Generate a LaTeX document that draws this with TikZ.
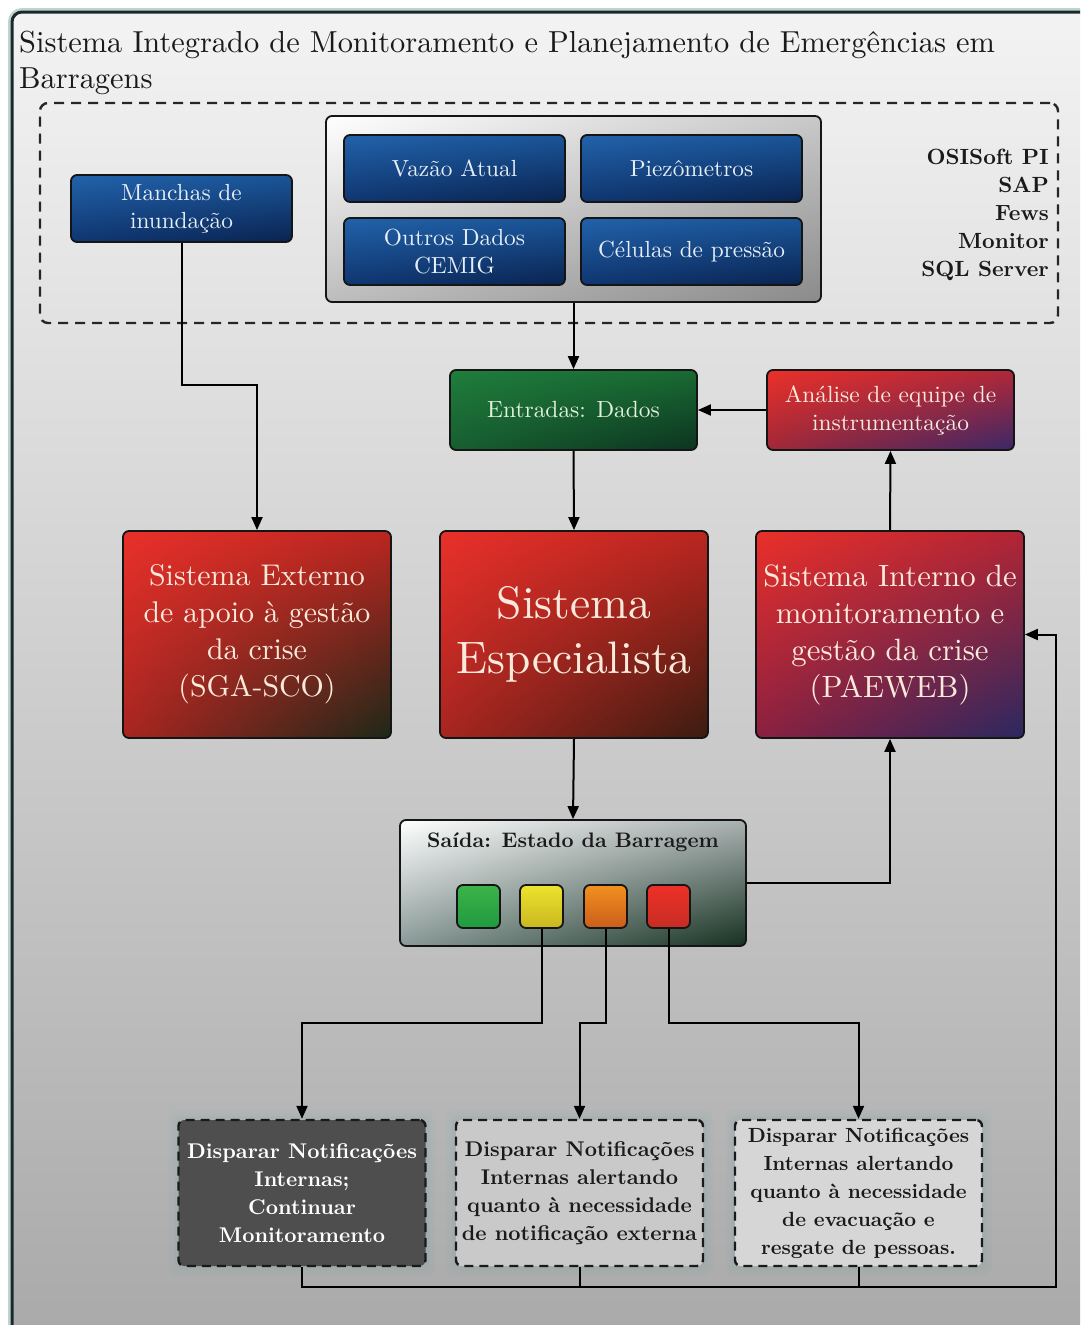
\documentclass[tikz,border=0pt]{standalone}
\usepackage{fontspec}
\setmainfont{lmroman10-regular.otf}[BoldFont=lmroman10-bold.otf, ItalicFont=lmroman10-italic.otf, BoldItalicFont=lmroman10-bolditalic.otf]
\usetikzlibrary{arrows.meta,calc,shadings}
\definecolor{bgtop}{HTML}{F3F3F3}
\definecolor{bgbot}{HTML}{A9A9A9}
\definecolor{framecol}{HTML}{1A2A2A}
\definecolor{boxline}{HTML}{151515}
\definecolor{blueUL}{HTML}{2262AA}
\definecolor{blueUR}{HTML}{1A5598}
\definecolor{blueLL}{HTML}{0F3670}
\definecolor{blueLR}{HTML}{0A2350}
\definecolor{bluetext}{HTML}{E6EEF8}
\definecolor{greenUL}{HTML}{1F7D3C}
\definecolor{greenUR}{HTML}{196A33}
\definecolor{greenLL}{HTML}{175F30}
\definecolor{greenLR}{HTML}{0C3320}
\definecolor{greentext}{HTML}{E2F2DA}
\definecolor{redUL}{HTML}{EA302A}
\definecolor{redUR}{HTML}{BA2620}
\definecolor{redLL}{HTML}{A82520}
\definecolor{extLR}{HTML}{1C2818}
\definecolor{espLR}{HTML}{3A1C10}
\definecolor{intUR}{HTML}{B22535}
\definecolor{intLL}{HTML}{8A2040}
\definecolor{intLR}{HTML}{2A2860}
\definecolor{anUR}{HTML}{B02838}
\definecolor{anLL}{HTML}{A02838}
\definecolor{anLR}{HTML}{3A2868}
\definecolor{redtext}{HTML}{FBE9DC}
\definecolor{saUR}{HTML}{A8B0B0}
\definecolor{saLL}{HTML}{8A9A98}
\definecolor{saLR}{HTML}{153020}
\definecolor{grUR}{HTML}{C8C8C8}
\definecolor{grLL}{HTML}{BDBDBD}
\definecolor{grLR}{HTML}{8A8A8A}
\definecolor{lgA}{HTML}{3CB44A}
\definecolor{lgB}{HTML}{1F9A3F}
\definecolor{lyA}{HTML}{ECE42E}
\definecolor{lyB}{HTML}{C9B61F}
\definecolor{loA}{HTML}{F2901F}
\definecolor{loB}{HTML}{C95E1C}
\definecolor{lrA}{HTML}{EE3027}
\definecolor{lrB}{HTML}{C52D24}
\definecolor{nA}{HTML}{4E4E4E}
\definecolor{nB}{HTML}{C9C9C9}
\definecolor{nC}{HTML}{D6D6D6}
\definecolor{glow}{HTML}{7FA8A8}
\definecolor{txt}{HTML}{1A1A1A}
\begin{document}
\begin{tikzpicture}[x=1pt,y=-1pt,
  arr/.style={line width=2pt, draw=black, -{Triangle[length=13pt,width=11pt]}},
  ln/.style={line width=2pt, draw=black},
  box/.style={draw=boxline, line width=1.8pt, rounded corners=6pt, align=center, inner sep=2pt},
  bluebox/.style={box, upper left=blueUL, upper right=blueUR, lower left=blueLL, lower right=blueLR,
     text=bluetext, font=\fontsize{23.3}{27.5}\selectfont, minimum width=221pt, minimum height=67pt},
  bigbox/.style={box, minimum width=268pt, minimum height=207pt, text=redtext,
     font=\fontsize{30.8}{37}\selectfont},
  midbox/.style={box, minimum width=247pt, minimum height=80pt, font=\fontsize{23.4}{28}\selectfont},
  light/.style={draw=boxline, line width=1.8pt, rounded corners=6pt, minimum width=43pt, minimum height=43pt},
  notebox/.style={draw=txt, line width=2.4pt, dash pattern=on 9pt off 6pt, rounded corners=6pt,
     minimum width=247pt, minimum height=146pt, align=center, inner sep=0pt,
     font=\bfseries\fontsize{21.3}{28}\selectfont},
  region/.style={draw=black!85, line width=2.4pt, dash pattern=on 10pt off 7pt, rounded corners=8pt}
]
\useasboundingbox (0,0) rectangle (1080,1325);
\fill[white] (0,0) rectangle (1080,1325);
\begin{scope}
  \clip (0,0) rectangle (1080,1325);
  \draw[glow!50!white, line width=8pt, rounded corners=10pt] (12,12) rectangle (1100,1345);
  \shade[top color=bgtop, bottom color=bgbot, rounded corners=10pt] (12,12) rectangle (1100,1345);
  \draw[framecol, line width=3pt, rounded corners=10pt] (12,12) rectangle (1100,1345);
\end{scope}

% title
\node[anchor=north west, align=left, inner sep=0pt, text=txt, font=\fontsize{30.4}{36}\selectfont]
  (title) at (19,31) {Sistema Integrado de Monitoramento e Planejamento de Emergências em\\Barragens};

% dashed region
\node[region, minimum width=1018pt, minimum height=220pt] (reg) at (549,213) {};
% inner container
\node[box, upper left=white, upper right=grUR, lower left=grLL, lower right=grLR,
      minimum width=495pt, minimum height=186pt] (grp) at (573.5,209) {};

\node[bluebox] (vazao) at (454.5,168.5) {Vazão Atual};
\node[bluebox] (piezo) at (691.5,168.5) {Piezômetros};
\node[bluebox] (outros) at (454.5,251.5) {Outros Dados\\CEMIG};
\node[bluebox] (celulas) at (691.5,251.5) {Células de pressão};
\node[bluebox] (manchas) at (181.5,208.5) {Manchas de\\inundação};

\node[anchor=north east, align=right, inner sep=0pt, text=txt, font=\bfseries\fontsize{22}{28}\selectfont]
  (lista) at (1049,149) {OSISoft PI\\SAP\\Fews\\Monitor\\SQL Server};

% middle row
\node[midbox, upper left=greenUL, upper right=greenUR, lower left=greenLL, lower right=greenLR,
      text=greentext] (entradas) at (573.5,410) {Entradas: Dados};
\node[midbox, upper left=redUL, upper right=anUR, lower left=anLL, lower right=anLR,
      text=redtext] (analise) at (890.5,410) {Análise de equipe de\\instrumentação};

% big boxes
\node[bigbox, upper left=redUL, upper right=redUR, lower left=redLL, lower right=extLR,
      font=\fontsize{29.9}{37}\selectfont]
  (externo) at (257,634.5) {Sistema Externo\\de apoio à gestão\\da crise\\(SGA-SCO)};
\node[bigbox, upper left=redUL, upper right=redUR, lower left=redLL, lower right=espLR,
      font=\fontsize{45.5}{55}\selectfont]
  (espec) at (574,634.5) {Sistema\\Especialista};
\node[bigbox, upper left=redUL, upper right=intUR, lower left=intLL, lower right=intLR]
  (interno) at (890,634.5) {Sistema Interno de\\monitoramento e\\gestão da crise\\(PAEWEB)};

% saida
\node[box, upper left=white, upper right=saUR, lower left=saLL, lower right=saLR,
      minimum width=346pt, minimum height=126pt] (saida) at (573,883) {};
\node[anchor=north, inner sep=0pt, text=txt, font=\bfseries\fontsize{21}{26}\selectfont]
  (saidatit) at ($(saida.north)+(0,13)$) {Saída: Estado da Barragem};
\node[light, top color=lgA, bottom color=lgB] (lverde) at (478.5,906.5) {};
\node[light, top color=lyA, bottom color=lyB] (lamarelo) at (541.5,906.5) {};
\node[light, top color=loA, bottom color=loB] (llaranja) at (605.5,906.5) {};
\node[light, top color=lrA, bottom color=lrB] (lvermelho) at (668.5,906.5) {};

% bottom boxes with glow
\foreach \cx in {302,579.5,858.5}{
  \foreach \r/\o in {10/0.06,7/0.08,4/0.1}{
    \fill[glow, opacity=\o, rounded corners=8pt] (\cx-123.5-\r,1120-\r) rectangle (\cx+123.5+\r,1266+\r);
  }
}
\node[notebox, fill=nA, text=white] (n1) at (302,1193)
  {Disparar Notificações\\Internas;\\Continuar\\Monitoramento};
\node[notebox, fill=nB, text=txt] (n2) at (579.5,1193)
  {Disparar Notificações\\Internas alertando\\quanto à necessidade\\de notificação externa};
\node[notebox, fill=nC, text=txt, font=\bfseries\fontsize{20.5}{28}\selectfont] (n3) at (858.5,1193)
  {Disparar Notificações\\Internas alertando\\quanto à necessidade\\de evacuação e\\resgate de pessoas.};

% helper coordinates
\coordinate (jm) at (0,385);
\coordinate (jy) at (0,1023);
\coordinate (jb) at (0,1287);
\coordinate (jr) at (1056,0);

% connectors
\draw[arr] (grp.south) -- (entradas.north);
\draw[arr] (manchas.south) -- (manchas.south |- jm) -- (externo.north |- jm) -- (externo.north);
\draw[arr] (analise.west) -- (entradas.east);
\draw[arr] (entradas.south) -- (espec.north);
\draw[arr] (interno.north) -- (analise.south);
\draw[arr] (espec.south) -- (saida.north);
\draw[arr] (saida.east) -| (interno.south);
\draw[arr] (lamarelo.south) -- (lamarelo.south |- jy) -- (n1.north |- jy) -- (n1.north);
\draw[arr] (llaranja.south) -- (llaranja.south |- jy) -- (n2.north |- jy) -- (n2.north);
\draw[arr] (lvermelho.south) -- (lvermelho.south |- jy) -- (n3.north |- jy) -- (n3.north);
\draw[arr] (n1.south) -- (n1.south |- jb) -- (jr |- jb) -- (jr |- interno.east) -- (interno.east);
\draw[ln] (n2.south) -- (n2.south |- jb);
\draw[ln] (n3.south) -- (n3.south |- jb);
\end{tikzpicture}
\end{document}
